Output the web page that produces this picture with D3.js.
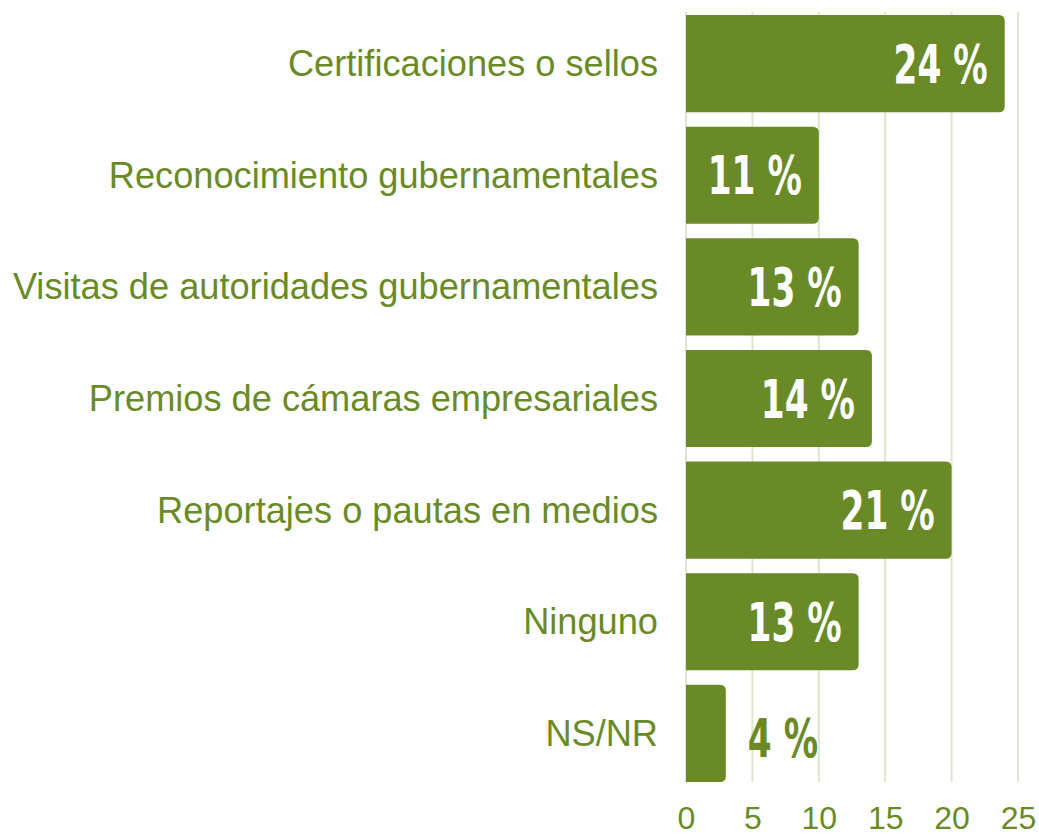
<!DOCTYPE html>
<html><head><meta charset="utf-8">
<script src="https://cdn.jsdelivr.net/npm/d3@7"></script>
<style>body{margin:0;background:#fff}svg{display:block}</style>
</head><body>
<script>
const categories = ["Certificaciones o sellos","Reconocimiento gubernamentales","Visitas de autoridades gubernamentales","Premios de cámaras empresariales","Reportajes o pautas en medios","Ninguno","NS/NR"];
const barValues = [24, 10, 13, 14, 20, 13, 3];
const valueLabels = ["24 %","11 %","13 %","14 %","21 %","13 %","4 %"];
const xTicks = [0, 5, 10, 15, 20, 25];

const W = 1039, H = 835;
const green = "#6a8a28";
const svg = d3.select("body").append("svg").attr("width", W).attr("height", H);

const x = d3.scaleLinear().domain([0, 25]).range([686, 1018]);
const y = d3.scaleBand().domain(categories).range([15, 782]).paddingInner(0.13).paddingOuter(0);

// grid
svg.append("g").selectAll("line").data(xTicks).join("line")
  .attr("x1", d => x(d)).attr("x2", d => x(d))
  .attr("y1", 12).attr("y2", 782)
  .attr("stroke", "#dfe5cf").attr("stroke-width", 2);

// bars with rounded right corners
const r = 6;
function barPath(d, i) {
  const x0 = x(0), x1 = x(d), y0 = y(categories[i]), h = y.bandwidth();
  return `M${x0},${y0}H${x1 - r}Q${x1},${y0} ${x1},${y0 + r}V${y0 + h - r}Q${x1},${y0 + h} ${x1 - r},${y0 + h}H${x0}Z`;
}
svg.append("g").selectAll("path").data(barValues).join("path")
  .attr("d", barPath).attr("fill", green);

// category labels
svg.append("g").selectAll("text").data(categories).join("text")
  .attr("x", 658).attr("y", d => y(d) + y.bandwidth() / 2)
  .attr("text-anchor", "end").attr("dominant-baseline", "central")
  .attr("font-family", "'Liberation Sans', Arial, sans-serif")
  .attr("font-size", 36.2).attr("fill", green)
  .text(d => d);

// value labels
const inside = d => d >= 5;
svg.append("g").selectAll("text").data(barValues).join("text")
  .attr("transform", (d, i) => {
    const cx = inside(d) ? x(d) - 17 : x(d) + 22;
    const cy = y(categories[i]) + y.bandwidth() / 2 + (inside(d) ? 19 : 24);
    return `translate(${cx},${cy}) scale(0.72,1)`;
  })
  .attr("text-anchor", d => inside(d) ? "end" : "start")
  .attr("font-family", "'DejaVu Sans', sans-serif")
  .attr("font-weight", "bold").attr("font-stretch", "condensed")
  .attr("font-size", 53)
  .attr("fill", d => inside(d) ? "#fff" : green)
  .text((d, i) => valueLabels[i]);

// x axis
const axis = svg.append("g").attr("transform", "translate(0,799)")
  .call(d3.axisBottom(x).tickValues(xTicks).tickSize(0).tickPadding(0));
axis.select(".domain").remove();
axis.selectAll("text").attr("font-family", "'Liberation Sans', Arial, sans-serif")
  .attr("font-size", 32).attr("fill", green).attr("dy", "0.95em");
</script>
</body></html>
